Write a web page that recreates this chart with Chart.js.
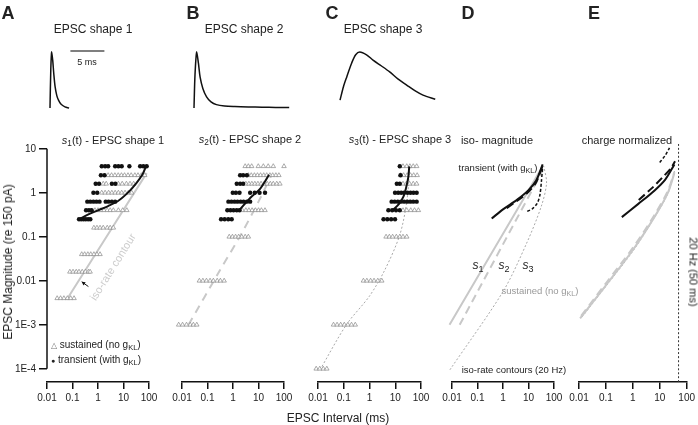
<!DOCTYPE html>
<html>
<head>
<meta charset="utf-8">
<script src="https://cdn.jsdelivr.net/npm/chart.js@4.4.1/dist/chart.umd.min.js"></script>
<style>
  body { margin: 0; background: #fff; }
  #fig { position: relative; width: 698px; height: 425px; overflow: hidden;
         font-family: "Liberation Sans", Arial, sans-serif; color: #222; }
  #fig canvas { position: absolute; left: 0; top: 0; }
  .t { position: absolute; white-space: nowrap; transform: translate(-50%, -50%); line-height: 1; }
  .l { position: absolute; white-space: nowrap; line-height: 1; }
  sub { font-size: 0.75em; vertical-align: -0.3em; line-height: 0; }
</style>
</head>
<body>
<div id="fig"></div>
<script>
// ---- EPSC waveforms (time ms, amplitude normalized)
const shape1T = [0, 0.12, 0.25, 0.4, 0.55, 0.75, 1.0, 1.25, 1.6, 2.2, 2.8];
const shape1Y = [0, 0.7, 1.0, 0.85, 0.62, 0.38, 0.22, 0.14, 0.07, 0.02, 0];
const shape2T = [0, 0.15, 0.4, 0.65, 0.9, 1.3, 1.85, 2.5, 3.3, 4.5, 6, 8, 10, 12, 14];
const shape2Y = [0, 0.6, 1.0, 0.8, 0.55, 0.35, 0.2, 0.11, 0.06, 0.035, 0.025, 0.018, 0.014, 0.011, 0.01];
const shape3T = [0.3, 0.8, 1.3, 2.0, 2.6, 3.2, 4.2, 5.2, 6.4, 7.6, 8.8, 10.1, 11.3, 12.5, 14.3];
const shape3Y = [0.14, 0.38, 0.56, 0.8, 0.95, 1.0, 0.95, 0.85, 0.75, 0.645, 0.52, 0.41, 0.31, 0.23, 0.155];
const scaleBarT = [3, 8];
const scaleBarY = [1.02, 1.02];

// ---- axis ticks
const xTicks = [0.01, 0.1, 1, 10, 100];
const xTickLabels = ["0.01", "0.1", "1", "10", "100"];
const yTicks = [10, 1, 0.1, 0.01, 0.001, 0.0001];
const yTickLabels = ["10", "1", "0.1", "0.01", "1E-3", "1E-4"];

// ---- panel A: rows of [magnitude, intervals (ms)]
const aTransient = [
  [4.0, [1.4, 1.9, 2.5, 4.7, 6.3, 8.5, 17, 45, 60, 81]],
  [2.5, [1.3, 1.8]],
  [1.6, [0.81, 1.1, 3.5, 4.8]],
  [1.0, [0.66, 0.93]],
  [0.63, [0.38, 0.5, 0.66, 0.87, 1.15, 2, 2.6, 3.5, 4.7]],
  [0.4, [0.34, 0.44, 0.56]],
  [0.25, [0.18, 0.22, 0.27, 0.33, 0.41, 0.5]]
];
const aSustained = [
  [2.5, [2.5, 3.4, 4.6, 6.2, 8.3, 11, 15, 20, 28, 37, 50, 68]],
  [1.6, [1.6, 2.1, 6.3, 8.9, 13, 18, 25]],
  [1.0, [1.4, 1.9, 2.6, 3.5, 4.7, 6.3, 8.5, 11.5, 15.5, 21]],
  [0.4, [0.76, 1, 1.3, 1.7, 2.3, 3, 4, 6.3, 9.3, 13.5]],
  [0.16, [0.69, 0.91, 1.2, 1.6, 2.3, 3, 4]],
  [0.04, [0.23, 0.3, 0.4, 0.52, 0.69, 0.91, 1.2]],
  [0.016, [0.079, 0.105, 0.14, 0.18, 0.24, 0.32, 0.42, 0.49]],
  [0.004, [0.025, 0.034, 0.046, 0.063, 0.085, 0.115]]
];
const aFitX = [0.18, 0.4, 1, 2.5, 6.3, 16, 32, 56, 79];
const aFitY = [0.25, 0.32, 0.4, 0.5, 0.66, 1.05, 1.66, 2.63, 4.2];
const aIsoX = [0.059, 81];
const aIsoY = [0.0037, 2.8];

// ---- panel B
const bTransient = [
  [2.5, [1.9, 2.5, 3.5]],
  [1.6, [1.4, 1.9, 2.5]],
  [1.0, [0.98, 1.3, 1.8, 4.7, 7.1, 11, 18]],
  [0.63, [0.66, 0.87, 1.15, 1.5, 2, 2.6, 3.5, 4.7]],
  [0.4, [0.6, 0.8, 1.05, 1.4, 1.8]],
  [0.25, [0.34, 0.47, 0.65, 0.89]]
];
const bSustained = [
  [4.0, [3, 4, 5.4, 9.8, 15.5, 24, 38, 100]],
  [2.5, [4, 5.2, 6.9, 9.1, 12, 16, 21, 28, 36, 48, 63]],
  [1.6, [3.2, 4.2, 5.5, 7.2, 9.5, 12.6, 16.6, 22, 29, 38, 52, 69]],
  [0.4, [2.3, 3.2, 4.2, 5.6, 7.6, 10, 13, 18]],
  [0.1, [0.71, 0.95, 1.26, 1.66, 2.2, 3, 4]],
  [0.01, [0.048, 0.066, 0.091, 0.126, 0.17, 0.24, 0.32, 0.45]],
  [0.001, [0.0019, 0.0026, 0.0037, 0.0052, 0.0074, 0.0105, 0.015, 0.021, 0.028, 0.038]]
];
const bFitX = [1.8, 4.7, 11.5, 26];
const bFitY = [0.41, 0.76, 1.23, 2.57];
const bIsoX = [0.018, 0.32, 2, 10, 32];
const bIsoY = [0.001, 0.018, 0.11, 0.63, 2.5];

// ---- panel C
const cTransient = [
  [4.0, [15]],
  [2.5, [16]],
  [1.6, [11.5, 15]],
  [1.0, [9.8, 13, 17, 22, 30, 39, 51, 68]],
  [0.63, [7.2, 9.5, 12.6, 16.6, 22, 29, 38, 50, 68]],
  [0.4, [5.4, 7.6, 10.7, 15]],
  [0.25, [3.5, 4.9, 6.9, 9.8]]
];
const cSustained = [
  [4.0, [20, 28, 37, 50, 68]],
  [2.5, [16, 21, 29, 39, 52, 71]],
  [1.6, [20, 27, 36, 50, 68]],
  [0.4, [20, 28, 40, 56, 79]],
  [0.1, [4.4, 5.9, 7.9, 11, 15, 20, 28]],
  [0.01, [0.58, 0.79, 1.1, 1.5, 2.1, 3]],
  [0.001, [0.04, 0.055, 0.076, 0.105, 0.145, 0.2, 0.28]],
  [0.0001, [0.0017, 0.0023, 0.0032, 0.0045, 0.0062, 0.0085, 0.0117, 0.016, 0.022]]
];
const cFitX = [8.3, 14, 21, 26, 32, 35];
const cFitY = [0.41, 0.56, 0.83, 1.26, 2.24, 4];
const cIsoX = [0.012, 0.126, 1, 4, 15, 28, 37];
const cIsoY = [0.000095, 0.001, 0.0045, 0.018, 0.11, 0.63, 4];

// ---- panel D (iso-magnitude)
const dTr1X = [0.36, 1, 3.5, 10, 20, 36];
const dTr1Y = [0.26, 0.42, 0.69, 1.15, 1.9, 4.4];
const dTr2X = [1.4, 4, 10, 20, 36];
const dTr2Y = [0.45, 0.69, 1.05, 1.74, 4.2];
const dTr3X = [8.9, 14, 22, 28, 32, 36];
const dTr3Y = [0.38, 0.43, 0.58, 0.89, 1.8, 4];
const dSu1X = [0.008, 36];
const dSu1Y = [0.001, 4];
const dSu2X = [0.02, 36];
const dSu2Y = [0.001, 3.2];
const dSu3X = [0.0083, 1.02, 8.5, 32, 51, 40];
const dSu3Y = [0.000095, 0.0058, 0.072, 0.5, 1.66, 4];

// ---- panel E (charge normalized)
const eTr1X = [0.39, 1.6, 6.3, 16, 35];
const eTr1Y = [0.28, 0.56, 1.12, 2, 4.4];
const eTr2X = [1.66, 5, 12.6, 25, 37];
const eTr2Y = [0.69, 1.26, 2.24, 3.5, 5.2];
const eTr3X = [10, 16, 23];
const eTr3Y = [4.9, 7.1, 10.5];
const eSu1X = [0.011, 0.1, 1, 6.3, 20, 35];
const eSu1Y = [0.0014, 0.0079, 0.05, 0.28, 1, 2.8];
const eSu2X = [0.012, 0.1, 1, 6.3, 20, 35];
const eSu2Y = [0.0016, 0.0088, 0.056, 0.31, 1.1, 3.0];
const eSu3X = [0.013, 0.1, 1, 6.3, 20, 36];
const eSu3Y = [0.0015, 0.0075, 0.047, 0.27, 0.95, 3.2];
const eRateX = [50, 50];
const eRateY = [0.00005, 14];

const W = 698, H = 425;
const FONT = "'Liberation Sans', Arial, sans-serif";
const fig = document.getElementById("fig");

function makeCanvas() {
  const c = document.createElement("canvas");
  c.width = W; c.height = H;
  fig.appendChild(c);
  return c;
}
function rowsToPoints(rows) {
  const pts = [];
  rows.forEach(([mag, xs]) => xs.forEach(x => pts.push({ x: x, y: mag })));
  return pts;
}
function pairs(xs, ys) { return xs.map((x, i) => ({ x: x, y: ys[i] })); }

function dots(rows) {
  return { data: rowsToPoints(rows), pointStyle: "circle", pointRadius: 2.2,
    pointBackgroundColor: "#111", pointBorderWidth: 0, showLine: false, clip: false };
}
function tris(rows) {
  return { data: rowsToPoints(rows), pointStyle: "triangle", pointRadius: 2.6,
    pointBackgroundColor: "#fff", pointBorderColor: "#888", pointBorderWidth: 0.7,
    showLine: false, clip: false };
}
function curve(xs, ys, color, width, dash) {
  return { data: pairs(xs, ys), showLine: true, pointRadius: 0, borderColor: color,
    borderWidth: width, borderDash: dash || [], tension: 0.3, fill: false, clip: false };
}

// y axis line only from 1E-4 to 10 (like the original)
const yBorder = {
  id: "yBorder",
  afterDraw(chart) {
    const y = chart.scales.y, ctx = chart.ctx, x = chart.chartArea.left;
    ctx.save();
    ctx.strokeStyle = "#111"; ctx.lineWidth = 1.5;
    ctx.beginPath();
    ctx.moveTo(x, y.getPixelForValue(10));
    ctx.lineTo(x, y.getPixelForValue(0.0001));
    ctx.stroke();
    // small arrow pointing at the contour
    const x0 = chart.scales.x.getPixelForValue(0.42), y0 = y.getPixelForValue(0.0074);
    const x1 = chart.scales.x.getPixelForValue(0.23), y1 = y.getPixelForValue(0.0095);
    ctx.lineWidth = 1;
    ctx.beginPath(); ctx.moveTo(x0, y0); ctx.lineTo(x1, y1); ctx.stroke();
    const a = Math.atan2(y1 - y0, x1 - x0);
    ctx.beginPath();
    ctx.moveTo(x1, y1);
    ctx.lineTo(x1 - 4 * Math.cos(a - 0.5), y1 - 4 * Math.sin(a - 0.5));
    ctx.lineTo(x1 - 4 * Math.cos(a + 0.5), y1 - 4 * Math.sin(a + 0.5));
    ctx.closePath(); ctx.fillStyle = "#111"; ctx.fill();
    ctx.restore();
  }
};

function logPanel(left, right, showY, datasets, plugins) {
  const yW = showY ? 40 : 0;
  return new Chart(makeCanvas(), {
    type: "scatter",
    data: { datasets: datasets },
    options: {
      responsive: false, animation: false, events: [],
      layout: { padding: { left: left - yW, right: W - right, top: 140, bottom: H - 382 - 30 } },
      plugins: { legend: { display: false }, tooltip: { enabled: false } },
      scales: {
        x: {
          type: "logarithmic", position: "bottom", min: 0.01, max: 100,
          afterBuildTicks: s => { s.ticks = xTicks.map(v => ({ value: v })); },
          afterFit: s => { s.height = 30; },
          border: { display: true, color: "#111", width: 1.5 },
          grid: { display: true, drawOnChartArea: false, drawTicks: true, tickLength: 7,
                  color: "#111", lineWidth: 1.5 },
          ticks: { autoSkip: false, maxRotation: 0, padding: 3, color: "#222",
                   font: { family: FONT, size: 10 }, callback: (v, i) => xTickLabels[i] }
        },
        y: {
          type: "logarithmic", position: "left", display: showY,
          min: Math.pow(10, -4.3), max: Math.pow(10, 1.2),
          afterBuildTicks: s => { s.ticks = yTicks.map(v => ({ value: v })); },
          afterFit: s => { s.width = yW; },
          border: { display: false },
          grid: { display: true, drawOnChartArea: false, drawTicks: true, tickLength: 8,
                  color: "#111", lineWidth: 1.5 },
          ticks: { autoSkip: false, padding: 3, color: "#222",
                   font: { family: FONT, size: 10 }, callback: (v, i) => yTickLabels[i] }
        }
      }
    },
    plugins: plugins || []
  });
}

function shapeChart(left, tMax, datasets) {
  const pxPerMs = 6.8;
  return new Chart(makeCanvas(), {
    type: "scatter",
    data: { datasets: datasets },
    options: {
      responsive: false, animation: false, events: [],
      layout: { padding: { left: left, right: W - left - pxPerMs * tMax, top: 52, bottom: H - 108 } },
      plugins: { legend: { display: false }, tooltip: { enabled: false } },
      scales: {
        x: { type: "linear", display: false, min: 0, max: tMax },
        y: { type: "linear", display: false, min: 0, max: 1 }
      }
    }
  });
}

const BLACK = "#111", GRAY = "#c8c8c8", GRAY2 = "#a8a8a8";

// top waveforms
shapeChart(50, 10, [
  curve(shape1T, shape1Y, BLACK, 1.5),
  curve(scaleBarT, scaleBarY, "#555", 1.5)
]);
shapeChart(194, 15, [curve(shape2T, shape2Y, BLACK, 1.5)]);
shapeChart(338, 15, [curve(shape3T, shape3Y, BLACK, 1.5)]);

// A
logPanel(47, 149, true, [
  curve(aFitX, aFitY, BLACK, 2),
  dots(aTransient),
  tris(aSustained),
  curve(aIsoX, aIsoY, GRAY, 2)
], [yBorder]);
// B
logPanel(182, 284, false, [
  curve(bFitX, bFitY, BLACK, 2),
  dots(bTransient),
  tris(bSustained),
  curve(bIsoX, bIsoY, GRAY, 2, [8, 6])
]);
// C
logPanel(318, 421, false, [
  curve(cFitX, cFitY, BLACK, 2),
  dots(cTransient),
  tris(cSustained),
  curve(cIsoX, cIsoY, GRAY2, 1, [2, 2])
]);
// D
logPanel(452, 554, false, [
  curve(dTr1X, dTr1Y, BLACK, 2),
  curve(dTr2X, dTr2Y, BLACK, 2, [8, 4]),
  curve(dTr3X, dTr3Y, BLACK, 1.5, [3, 2]),
  curve(dSu1X, dSu1Y, GRAY, 2),
  curve(dSu2X, dSu2Y, GRAY, 2, [8, 5]),
  curve(dSu3X, dSu3Y, GRAY2, 1, [2, 2])
]);
// E
logPanel(579, 689, false, [
  curve(eTr1X, eTr1Y, BLACK, 2),
  curve(eTr2X, eTr2Y, BLACK, 2, [8, 4]),
  curve(eTr3X, eTr3Y, BLACK, 1.5, [3, 2]),
  curve(eRateX, eRateY, "#333", 1, [2, 2]),
  curve(eSu1X, eSu1Y, GRAY, 2),
  curve(eSu2X, eSu2Y, GRAY, 2, [8, 5]),
  curve(eSu3X, eSu3Y, GRAY2, 1, [2, 2])
]);

// ---- text
const KL = "g<sub>KL</sub>";
const labels = [
  ["A", 8, 13, 18, "font-weight:bold"],
  ["B", 193, 13, 18, "font-weight:bold"],
  ["C", 332, 13, 18, "font-weight:bold"],
  ["D", 468, 13, 18, "font-weight:bold"],
  ["E", 594, 13, 18, "font-weight:bold"],
  ["EPSC shape 1", 93, 29, 12, ""],
  ["EPSC shape 2", 244, 29, 12, ""],
  ["EPSC shape 3", 383, 29, 12, ""],
  ["5 ms", 87, 62, 9, ""],
  ["<i>s</i><sub>1</sub>(t) - EPSC shape 1", 113, 140, 11, ""],
  ["<i>s</i><sub>2</sub>(t) - EPSC shape 2", 250, 139, 11, ""],
  ["<i>s</i><sub>3</sub>(t) - EPSC shape 3", 400, 139, 11, ""],
  ["iso- magnitude", 497, 140, 11, ""],
  ["charge normalized", 627, 140, 11, ""],
  ["transient (with " + KL + ")", 498, 168, 9.5, ""],
  ["<i>s</i><sub>1</sub>", 478, 265, 12, ""],
  ["<i>s</i><sub>2</sub>", 504, 265, 12, ""],
  ["<i>s</i><sub>3</sub>", 528, 265, 12, ""],
  ["sustained (no " + KL + ")", 540, 291, 9.5, "color:#999"],
  ["iso-rate contours (20 Hz)", 514, 370, 9.5, ""],
  ["20 Hz (50 ms)", 693, 272, 11, "transform:translate(-50%,-50%) rotate(90deg)"],
  ["iso-rate contour", 113, 267, 11, "color:#ccc;transform:translate(-50%,-50%) rotate(-58deg)"],
  ["EPSC Magnitude (re 150 pA)", 8, 262, 12, "transform:translate(-50%,-50%) rotate(-90deg)"],
  ["EPSC Interval (ms)", 338, 418, 12, ""]
];
labels.forEach(([html, x, y, size, extra]) => {
  const d = document.createElement("div");
  d.className = "t";
  d.innerHTML = html;
  d.style.cssText = "left:" + x + "px;top:" + y + "px;font-size:" + size + "px;" + extra;
  fig.appendChild(d);
});
const legendRows = [
  ["<span style='font-size:8px;color:#777'>&#9651;</span> sustained (no " + KL + ")", 51, 340],
  ["<span style='font-size:7px'>&#9679;</span> transient (with " + KL + ")", 51, 355]
];
legendRows.forEach(([html, x, y]) => {
  const d = document.createElement("div");
  d.className = "l";
  d.innerHTML = html;
  d.style.cssText = "left:" + x + "px;top:" + y + "px;font-size:10px;";
  fig.appendChild(d);
});
</script>
</body>
</html>
